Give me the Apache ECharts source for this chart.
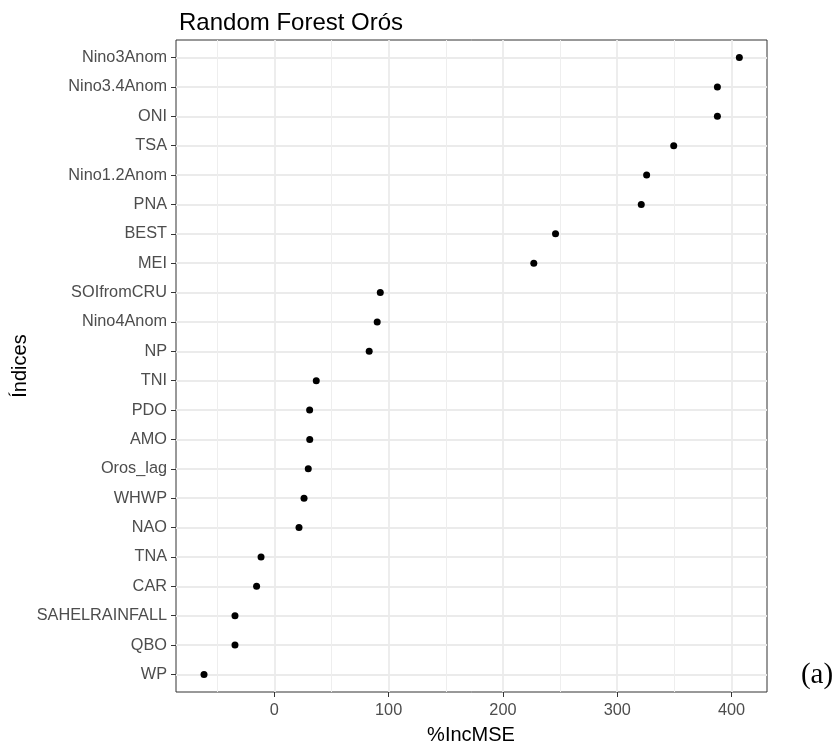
<!DOCTYPE html>
<html>
<head>
<meta charset="utf-8">
<script src="https://cdn.jsdelivr.net/npm/echarts@6/dist/echarts.min.js"></script>
<style>html,body{margin:0;padding:0;background:#fff}#c{width:839px;height:746px}</style>
</head>
<body>
<div id="c"></div>
<script>
const categories = ["Nino3Anom","Nino3.4Anom","ONI","TSA","Nino1.2Anom","PNA","BEST","MEI","SOIfromCRU","Nino4Anom","NP","TNI","PDO","AMO","Oros_lag","WHWP","NAO","TNA","CAR","SAHELRAINFALL","QBO","WP"];
const incMSE = [406.8,387.6,387.6,349.4,325.7,321,246,227,92.7,90,83,36.7,30.9,31,29.7,26,21.6,-11.6,-15.5,-34.4,-34.4,-61.5];
const xTicks = [0,100,200,300,400];
const xMinor = [-50,50,150,250,350];

const FONT = "Liberation Sans, Arial, sans-serif";
const chart = echarts.init(document.getElementById('c'), null, {renderer:'canvas'});
const yIdx = categories.map((c,i)=>i);
chart.setOption({
  animation:false,
  backgroundColor:'#fff',
  grid:{left:176, top:40, width:591, height:652, show:true, borderColor:'#333333', borderWidth:1, backgroundColor:'rgba(0,0,0,0)'},
  title:{text:'Random Forest Orós', left:174, top:6, textStyle:{fontFamily:FONT, fontSize:24, fontWeight:'normal', color:'#000'}},
  xAxis:[{
    type:'value', min:-86, max:431, position:'bottom',
    axisLine:{show:false, onZero:false},
    axisTick:{show:true, customValues:xTicks, length:5, lineStyle:{color:'#333', width:1}},
    axisLabel:{customValues:xTicks, margin:11, fontFamily:FONT, fontSize:16.3, color:'#4d4d4d'},
    splitLine:{show:true, lineStyle:{color:'#ebebeb', width:1.8}}
  },{
    type:'value', min:-86, max:431, position:'bottom',
    axisLine:{show:false, onZero:false},
    axisTick:{show:false, customValues:xMinor},
    axisLabel:{show:false},
    splitLine:{show:true, lineStyle:{color:'#eeeeee', width:1}}
  }],
  yAxis:{
    type:'value', inverse:true, min:-0.6, max:categories.length-1+0.6, position:'left',
    axisLine:{show:false, onZero:false},
    axisTick:{show:true, customValues:yIdx, length:5, lineStyle:{color:'#333', width:1}},
    axisLabel:{customValues:yIdx, margin:9, formatter:(v)=>categories[Math.round(v)], fontFamily:FONT, fontSize:16.3, color:'#4d4d4d'},
    splitLine:{show:true, lineStyle:{color:'#ebebeb', width:1.8}}
  },
  series:[{
    type:'scatter', xAxisIndex:0,
    data: incMSE.map((v,i)=>[v,i]),
    symbol:'circle', symbolSize:7,
    itemStyle:{color:'#000', opacity:1}
  }],
  graphic:[
    {type:'text', style:{text:'%IncMSE', x:471, y:735, align:'center', verticalAlign:'middle', font:'20px '+FONT, fill:'#000'}},
    {type:'text', rotation:Math.PI/2, x:20, y:366, style:{text:'Índices', align:'center', verticalAlign:'middle', font:'20px '+FONT, fill:'#000'}},
    {type:'text', style:{text:'(a)', x:817, y:675, align:'center', verticalAlign:'middle', font:'29px "Liberation Serif", "Times New Roman", serif', fill:'#000'}}
  ]
});
</script>
</body>
</html>
